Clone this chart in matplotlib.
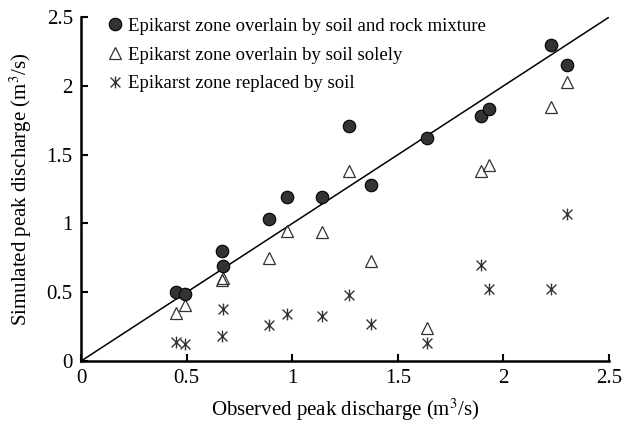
import numpy as np
import matplotlib
matplotlib.use('Agg')
import matplotlib.pyplot as plt
from matplotlib.path import Path

plt.rcParams['font.family'] = ['Liberation Serif', 'DejaVu Serif']
plt.rcParams['mathtext.fontset'] = 'stix'

# observed peak discharge (m3/s) for each event
observed = [0.45, 0.49, 0.665, 0.67, 0.89, 0.975, 1.14, 1.27, 1.375, 1.64, 1.895, 1.93, 2.225, 2.30]

# simulated peak discharge for the three epikarst configurations
sim_mixture = [0.50, 0.49, 0.80, 0.69, 1.03, 1.19, 1.19, 1.71, 1.28, 1.62, 1.78, 1.83, 2.30, 2.15]
sim_soil_only = [0.35, 0.41, 0.59, 0.60, 0.75, 0.945, 0.935, 1.38, 0.73, 0.24, 1.385, 1.425, 1.845, 2.03]
sim_replaced = [0.14, 0.12, 0.18, 0.38, 0.26, 0.34, 0.33, 0.48, 0.27, 0.13, 0.695, 0.52, 0.52, 1.07]

labels = ['Epikarst zone overlain by soil and rock mixture',
          'Epikarst zone overlain by soil solely',
          'Epikarst zone replaced by soil']

# x with a vertical bar through it
star = Path([(-1, -1), (1, 1), (-1, 1), (1, -1), (0, -1.2), (0, 1.2)],
            [Path.MOVETO, Path.LINETO, Path.MOVETO, Path.LINETO, Path.MOVETO, Path.LINETO])

fig = plt.figure(figsize=(6.24, 4.25), dpi=100)
ax = fig.add_axes([0.13, 0.1506, 0.846, 0.809])

ax.plot([0, 2.5], [0, 2.5], color='black', lw=1.1, zorder=1)
ax.plot(observed, sim_mixture, 'o', ms=9, mfc='#333333', mec='black', mew=0.8,
        ls='none', label=labels[0], zorder=3)
ax.plot(observed, sim_soil_only, '^', ms=8.5, mfc='none', mec='#333333', mew=0.9,
        ls='none', label=labels[1], zorder=2)
ax.plot(observed, sim_replaced, marker=star, ms=8.5, mfc='none', mec='#333333', mew=1.0,
        ls='none', label=labels[2], zorder=2)

ax.set_xlim(0, 2.5)
ax.set_ylim(0, 2.5)
ax.set_xticks([0, 0.5, 1, 1.5, 2, 2.5])
ax.set_xticklabels(['0', '0.5', '1', '1.5', '2', '2.5'])
ax.set_yticks([0, 0.5, 1, 1.5, 2, 2.5])
ax.set_yticklabels(['0', '0.5', '1', '1.5', '2', '2.5'])
ax.tick_params(direction='in', length=5, width=1.5, labelsize=15, pad=6)

for side in ['top', 'right']:
    ax.spines[side].set_visible(False)
for side in ['left', 'bottom']:
    ax.spines[side].set_linewidth(1.8)

ax.set_xlabel('Observed peak discharge (m$^3$/s)', fontsize=15, labelpad=6)
ax.set_ylabel('Simulated peak discharge (m$^3$/s)', fontsize=15, labelpad=9)

ax.legend(loc='upper left', frameon=False, fontsize=13.5, handletextpad=0.15,
          handlelength=1.1, labelspacing=0.62, borderaxespad=0.0,
          bbox_to_anchor=(0.03, 1.02))

fig.savefig('out.png', dpi=100)
